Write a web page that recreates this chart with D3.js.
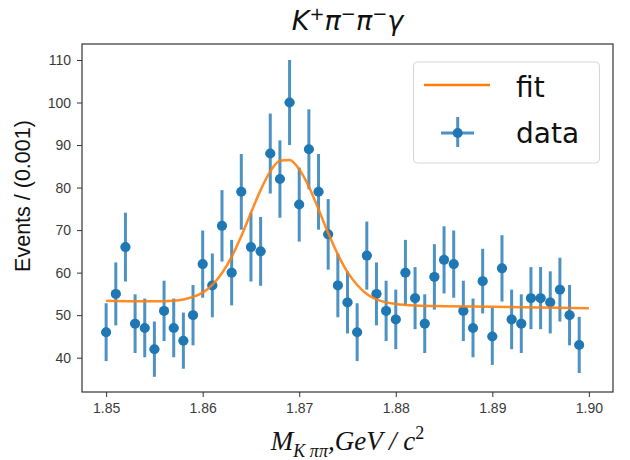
<!DOCTYPE html>
<html>
<head>
<meta charset="utf-8">
<script src="https://cdn.jsdelivr.net/npm/d3@7"></script>
<style>
  body { margin: 0; background: #fff; }
  svg { display: block; }
</style>
</head>
<body>
<div id="chart"></div>
<script>
// bin centres (GeV/c^2), one per 0.001 bin
var binCenters = [1.850, 1.851, 1.852, 1.853, 1.854, 1.855, 1.856, 1.857, 1.858, 1.859,
                  1.860, 1.861, 1.862, 1.863, 1.864, 1.865, 1.866, 1.867, 1.868, 1.869,
                  1.870, 1.871, 1.872, 1.873, 1.874, 1.875, 1.876, 1.877, 1.878, 1.879,
                  1.880, 1.881, 1.882, 1.883, 1.884, 1.885, 1.886, 1.887, 1.888, 1.889,
                  1.890, 1.891, 1.892, 1.893, 1.894, 1.895, 1.896, 1.897, 1.898, 1.899];
var counts = [46, 55, 66, 48, 47, 42, 51, 47, 44, 50,
              62, 57, 71, 60, 79, 66, 65, 88, 82, 100,
              76, 89, 79, 69, 57, 53, 46, 64, 55, 51,
              49, 60, 54, 48, 59, 63, 62, 51, 47, 58,
              45, 61, 49, 48, 54, 54, 53, 56, 50, 43];
var errors = [6.8, 7.4, 8.1, 6.9, 6.9, 6.5, 7.1, 6.9, 6.6, 7.1,
              7.9, 7.5, 8.4, 7.7, 8.9, 8.1, 8.1, 9.4, 9.1, 10.0,
              8.7, 9.4, 8.9, 8.3, 7.5, 7.3, 6.8, 8.0, 7.4, 7.1,
              7.0, 7.7, 7.3, 6.9, 7.7, 7.9, 7.9, 7.1, 6.9, 7.6,
              6.7, 7.8, 7.0, 6.9, 7.3, 7.3, 7.3, 7.5, 7.1, 6.6];
var binHalfWidth = 0.0005;

// fit curve
var fitX = [1.850, 1.855, 1.857, 1.858, 1.859, 1.860, 1.861, 1.862, 1.863, 1.864,
            1.865, 1.866, 1.867, 1.868, 1.869, 1.870, 1.871, 1.872, 1.873, 1.874,
            1.875, 1.876, 1.877, 1.878, 1.879, 1.880, 1.882, 1.885, 1.890, 1.895, 1.900];
var fitY = [53.4, 53.25, 53.4, 53.7, 54.3, 55.3, 57.1, 59.9, 63.7, 68.6,
            74.1, 79.4, 83.8, 86.3, 86.5, 84.3, 80.2, 74.9, 69.3, 64.3,
            60.1, 57.1, 55.0, 53.7, 53.0, 52.6, 52.25, 52.1, 52.0, 51.8, 51.6];

var xTicks = [1.85, 1.86, 1.87, 1.88, 1.89, 1.90];
var yTicks = [40, 50, 60, 70, 80, 90, 100, 110];

var width = 630, height = 460;
var margin = {top: 44, right: 17, bottom: 68, left: 82};
var blue = "#1f77b4", orange = "#ff7f0e";

var svg = d3.select("#chart")
    .append("svg")
    .attr("width", width)
    .attr("height", height);

var x = d3.scaleLinear()
    .domain([1.8475, 1.9025])
    .range([margin.left, width - margin.right]);

var y = d3.scaleLinear()
    .domain([31.93, 113.76])
    .range([height - margin.bottom, margin.top]);

// axes
var xAxis = svg.append("g")
    .attr("transform", "translate(0," + (height - margin.bottom) + ")")
    .call(d3.axisBottom(x).tickValues(xTicks).tickSize(5).tickPadding(6)
        .tickFormat(d3.format(".2f")));

var yAxis = svg.append("g")
    .attr("transform", "translate(" + margin.left + ",0)")
    .call(d3.axisLeft(y).tickValues(yTicks).tickSize(5).tickPadding(6));

[xAxis, yAxis].forEach(function(g) {
    g.select(".domain").remove();
    g.selectAll(".tick line").attr("stroke", "#333").attr("stroke-width", 1);
    g.selectAll(".tick text")
        .attr("font-family", "Liberation Sans, sans-serif")
        .attr("font-size", 14)
        .attr("fill", "#3a3a3a");
});

// frame
svg.append("rect")
    .attr("x", margin.left)
    .attr("y", margin.top)
    .attr("width", width - margin.left - margin.right)
    .attr("height", height - margin.top - margin.bottom)
    .attr("fill", "none")
    .attr("stroke", "#333")
    .attr("stroke-width", 1.2);

// data points with error bars
var pts = svg.append("g").selectAll("g")
    .data(counts)
    .enter()
    .append("g");

pts.append("line")
    .attr("x1", function(d, i) { return x(binCenters[i]); })
    .attr("x2", function(d, i) { return x(binCenters[i]); })
    .attr("y1", function(d, i) { return y(d - errors[i]); })
    .attr("y2", function(d, i) { return y(d + errors[i]); })
    .attr("stroke", blue)
    .attr("stroke-opacity", 0.8)
    .attr("stroke-width", 3);

pts.append("line")
    .attr("x1", function(d, i) { return x(binCenters[i] - binHalfWidth); })
    .attr("x2", function(d, i) { return x(binCenters[i] + binHalfWidth); })
    .attr("y1", function(d) { return y(d); })
    .attr("y2", function(d) { return y(d); })
    .attr("stroke", blue)
    .attr("stroke-opacity", 0.8)
    .attr("stroke-width", 3);

pts.append("circle")
    .attr("cx", function(d, i) { return x(binCenters[i]); })
    .attr("cy", function(d) { return y(d); })
    .attr("r", 5)
    .attr("fill", blue);

// fit line
var line = d3.line()
    .x(function(d, i) { return x(fitX[i]); })
    .y(function(d) { return y(d); })
    .curve(d3.curveMonotoneX);

svg.append("path")
    .datum(fitY)
    .attr("d", line)
    .attr("fill", "none")
    .attr("stroke", orange)
    .attr("stroke-opacity", 0.9)
    .attr("stroke-width", 2.5);

// title
var title = svg.append("text")
    .attr("x", (margin.left + width - margin.right) / 2)
    .attr("y", 30)
    .attr("text-anchor", "middle")
    .attr("font-family", "DejaVu Sans, sans-serif")
    .attr("font-size", 27)
    .attr("fill", "#111");
title.append("tspan").attr("font-style", "italic").text("K");
title.append("tspan").attr("dy", -10).attr("font-size", 18).text("+");
title.append("tspan").attr("dy", 10).attr("font-style", "italic").text("π");
title.append("tspan").attr("dy", -10).attr("font-size", 18).text("−");
title.append("tspan").attr("dy", 10).attr("font-style", "italic").text("π");
title.append("tspan").attr("dy", -10).attr("font-size", 18).text("−");
title.append("tspan").attr("dy", 10).attr("font-style", "italic").text("γ");

// x label
var xl = svg.append("text")
    .attr("x", (margin.left + width - margin.right) / 2)
    .attr("y", 450)
    .attr("text-anchor", "middle")
    .attr("font-family", "Liberation Serif, serif")
    .attr("font-style", "italic")
    .attr("font-size", 27)
    .attr("fill", "#111");
xl.append("tspan").text("M");
xl.append("tspan").attr("dy", 7).attr("font-size", 18).text("K ππ");
xl.append("tspan").attr("dy", -7).text(",GeV / c");
xl.append("tspan").attr("dy", -11).attr("font-size", 18).attr("font-style", "normal").text("2");

// y label
svg.append("text")
    .attr("transform", "translate(30,196) rotate(-90)")
    .attr("text-anchor", "middle")
    .attr("font-family", "Liberation Sans, sans-serif")
    .attr("font-size", 21.5)
    .attr("fill", "#111")
    .text("Events / (0.001)");

// legend
var legend = svg.append("g");
legend.append("rect")
    .attr("x", 413.5).attr("y", 62)
    .attr("width", 186).attr("height", 101)
    .attr("rx", 4)
    .attr("fill", "#fff").attr("fill-opacity", 0.8)
    .attr("stroke", "#d6d6d6");
legend.append("line")
    .attr("x1", 424).attr("x2", 490).attr("y1", 85).attr("y2", 85)
    .attr("stroke", orange).attr("stroke-width", 2.5);
legend.append("line")
    .attr("x1", 457.7).attr("x2", 457.7).attr("y1", 117).attr("y2", 147)
    .attr("stroke", blue).attr("stroke-opacity", 0.8).attr("stroke-width", 3);
legend.append("line")
    .attr("x1", 441).attr("x2", 474).attr("y1", 133).attr("y2", 133)
    .attr("stroke", blue).attr("stroke-opacity", 0.8).attr("stroke-width", 3);
legend.append("circle")
    .attr("cx", 457.7).attr("cy", 133).attr("r", 5).attr("fill", blue);
legend.selectAll("text.lab")
    .data(["fit", "data"])
    .enter()
    .append("text")
    .attr("class", "lab")
    .attr("x", 516)
    .attr("y", function(d, i) { return i === 0 ? 96.5 : 142.5; })
    .attr("font-family", "DejaVu Sans, sans-serif")
    .attr("font-size", 28)
    .attr("fill", "#111")
    .text(function(d) { return d; });
</script>
</body>
</html>
